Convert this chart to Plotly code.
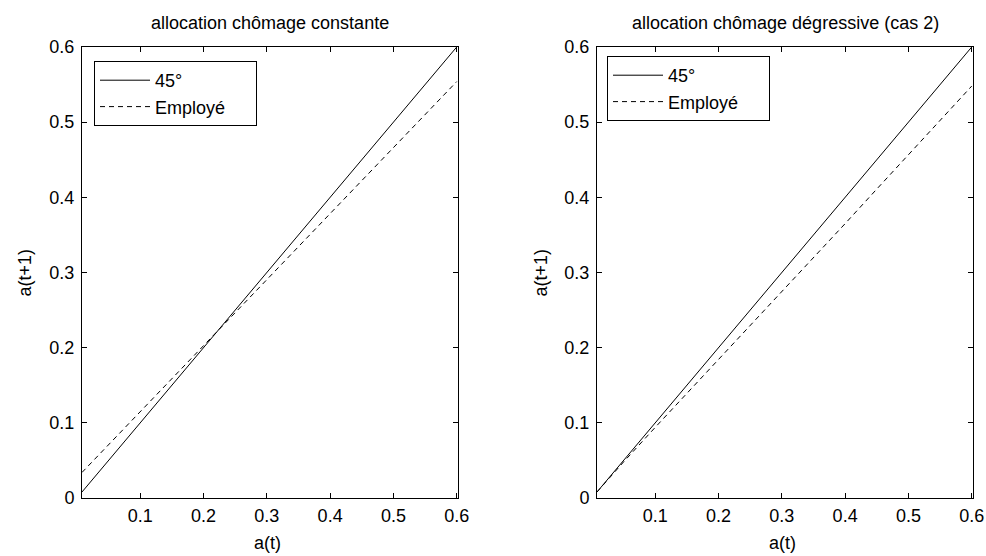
import plotly.graph_objects as go

# ---- data ----
a_t = [0.008, 0.05, 0.1, 0.15, 0.2, 0.25, 0.3, 0.35, 0.4, 0.45, 0.5, 0.55, 0.6]
ligne_45 = [0.008, 0.05, 0.1, 0.15, 0.2, 0.25, 0.3, 0.35, 0.4, 0.45, 0.5, 0.55, 0.6]
employe_constante = [0.034, 0.071, 0.115, 0.159, 0.203, 0.247, 0.291, 0.335, 0.379, 0.423, 0.467, 0.511, 0.554]
employe_degressive = [0.008, 0.048, 0.094, 0.139, 0.184, 0.229, 0.274, 0.319, 0.365, 0.411, 0.457, 0.503, 0.548]

titres = ["allocation chômage constante", "allocation chômage dégressive (cas 2)"]
x_ticks = [0.1, 0.2, 0.3, 0.4, 0.5, 0.6]
y_ticks = [0, 0.1, 0.2, 0.3, 0.4, 0.5, 0.6]
noms = ["45°", "Employé"]

W, H = 986, 556
FONT = "Liberation Sans, Arial, sans-serif"
FS = 18
PAD = "\u00a0" * 5


def px(x):
    return x / W


def py(y):
    return 1 - y / H


fig = go.Figure()

series = [(ligne_45, employe_constante, "x", "y", "legend"),
          (ligne_45, employe_degressive, "x2", "y2", "legend2")]
for s45, semp, xa, ya, lg in series:
    fig.add_trace(go.Scatter(x=a_t, y=s45, mode="lines", name=noms[0],
                             line=dict(color="black", width=1),
                             xaxis=xa, yaxis=ya, legend=lg))
    fig.add_trace(go.Scatter(x=a_t, y=semp, mode="lines", name=noms[1] + PAD,
                             line=dict(color="black", width=1, dash="5px,4px"),
                             xaxis=xa, yaxis=ya, legend=lg))

ax_common = dict(showline=True, linecolor="black", linewidth=1, mirror="ticks",
                 ticks="inside", ticklen=5, tickcolor="black", showgrid=False,
                 zeroline=False, tickfont=dict(family=FONT, size=FS, color="black"))

ydom = [py(498), py(47)]
dom1 = [px(82), px(458)]
dom2 = [px(597), px(973)]

leg_common = dict(xanchor="left", yanchor="top", bordercolor="black", borderwidth=1,
                  bgcolor="white", font=dict(family=FONT, size=FS), itemwidth=50,
                  tracegroupgap=0)

fig.update_layout(
    width=W, height=H,
    margin=dict(l=0, r=0, t=0, b=0, autoexpand=False),
    paper_bgcolor="white", plot_bgcolor="white",
    font=dict(family=FONT, size=FS, color="black"),
    xaxis=dict(domain=dom1, range=[0.008, 0.602], tickvals=x_ticks, anchor="y",
               ticklabelstandoff=1, **ax_common),
    yaxis=dict(domain=ydom, range=[0, 0.6], tickvals=y_ticks, anchor="x",
               ticklabelstandoff=3, **ax_common),
    xaxis2=dict(domain=dom2, range=[0.008, 0.602], tickvals=x_ticks, anchor="y2",
                ticklabelstandoff=1, **ax_common),
    yaxis2=dict(domain=ydom, range=[0, 0.6], tickvals=y_ticks, anchor="x2",
                ticklabelstandoff=3, **ax_common),
    legend=dict(x=px(94), y=py(61), **leg_common),
    legend2=dict(x=px(607), y=py(56), **leg_common),
)

annots = []
for dom, titre in zip([dom1, dom2], titres):
    cx = (dom[0] + dom[1]) / 2
    annots.append(dict(text=titre, x=cx, y=py(23), xref="paper", yref="paper",
                       showarrow=False, xanchor="center", yanchor="middle",
                       font=dict(family=FONT, size=FS)))
    annots.append(dict(text="a(t)", x=cx - 3 / W, y=py(543), xref="paper", yref="paper",
                       showarrow=False, xanchor="center", yanchor="middle",
                       font=dict(family=FONT, size=FS)))
for xl in (24, 540):
    annots.append(dict(text="a(t+1)", x=px(xl), y=(ydom[0] + ydom[1]) / 2,
                       xref="paper", yref="paper", showarrow=False, textangle=-90,
                       xanchor="center", yanchor="middle",
                       font=dict(family=FONT, size=FS)))
fig.update_layout(annotations=annots)

fig.write_html("out.html",
               config={"displayModeBar": False},
               post_script="document.body.style.margin='0';document.body.style.overflow='hidden';")
